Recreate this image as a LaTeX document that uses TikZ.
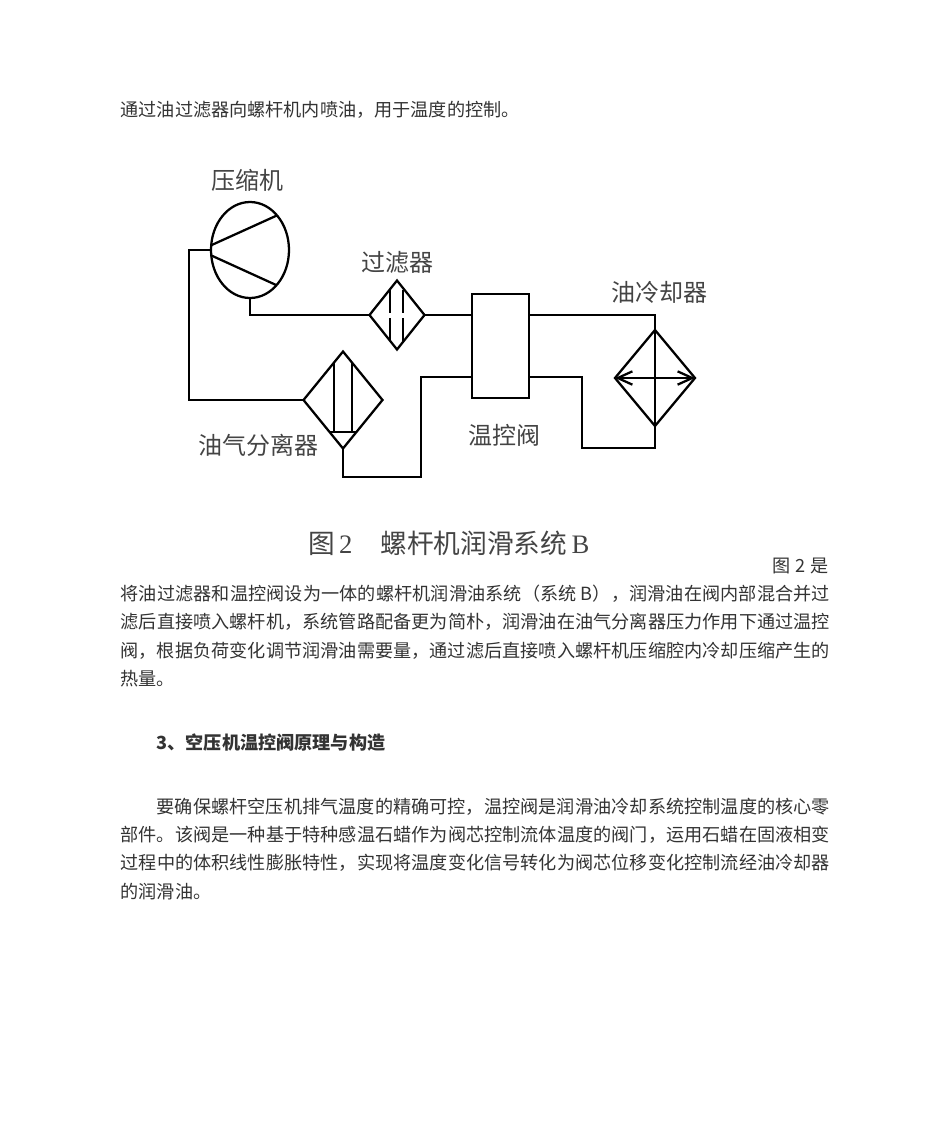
\documentclass[tikz,border=0pt]{standalone}
\usepackage{fontspec}
\setmainfont{Noto Sans CJK SC}
\newfontfamily\capserif{Liberation Serif}
\usetikzlibrary{arrows.meta,shapes.geometric}
\XeTeXlinebreaklocale "zh"
\XeTeXlinebreakskip=0pt plus 1pt
\definecolor{bodyink}{HTML}{333333}
\definecolor{labelink}{HTML}{444444}

\begin{document}
\begin{tikzpicture}[x=0.75pt,y=-0.75pt,line width=1.7pt,>={Straight Barb[length=11pt,width=10pt]},
  part/.style={draw,inner sep=0pt,outer sep=0pt},
  label/.style={inner sep=0pt,text=labelink,font=\fontsize{18}{18}\selectfont},
  bodytext/.style={inner sep=0pt,anchor=north west,text=bodyink,text width=532pt,align=justify,font=\fontsize{13.6}{21.15}\selectfont},
  bodyline/.style={inner sep=0pt,text=bodyink,font=\fontsize{13.6}{21.15}\selectfont}]
  \useasboundingbox (0,0) rectangle (950,1129);

  \node[bodyline,anchor=west] (intro) at (119.5,110) {通过油过滤器向螺杆机内喷油，用于温度的控制。};

  \node[part,ellipse,minimum width=58.5pt,minimum height=72pt] (comp) at (250,250) {};
  \node[part,diamond,minimum width=41.25pt,minimum height=51.75pt] (filter) at (397,315) {};
  \node[part,diamond,minimum width=59.25pt,minimum height=72.75pt] (sep) at (343,400) {};
  \node[part,diamond,minimum width=60pt,minimum height=72pt] (cooler) at (655,378) {};
  \node[part,rectangle,minimum width=42.75pt,minimum height=78pt] (valve) at (500.5,346) {};

  \node[label] (complabel) at (247,180) {压缩机};
  \node[label] (filterlabel) at (397,262) {过滤器};
  \node[label] (coolerlabel) at (659,292) {油冷却器};
  \node[label] (seplabel) at (258,445) {油气分离器};
  \node[label] (valvelabel) at (504,435) {温控阀};

  \coordinate (valvefront) at (472,315);
  \coordinate (valveback) at (529,315);
  \coordinate (valvefeed) at (472,377);
  \coordinate (valvereturn) at (529,377);
  \coordinate (leftturn) at (189,250);
  \coordinate (septurn) at (421,477);
  \coordinate (coolerturn) at (582,448);

  \draw (comp.west) -- (leftturn) |- (sep.west);
  \draw (comp.south) |- (filter.west);
  \draw (filter.east) -- (valvefront);
  \draw (valveback) -| (cooler.north);
  \draw (cooler.south) |- (coolerturn) |- (valvereturn);
  \draw (sep.south) |- (septurn) |- (valvefeed);

  \draw (comp.173) -- (comp.52);
  \draw (comp.188) -- (comp.-53);

  \draw[line width=1.2pt] (390,290) -- (390,313) (390,318) -- (390,341);
  \draw[line width=1.2pt] (403,290) -- (403,313) (403,318) -- (403,341);

  \draw[line width=1.2pt] (334,362) -- (334,432);
  \draw[line width=1.2pt] (352,362) -- (352,432);
  \draw (329,432) -- (357,432);

  \draw (cooler.north) -- (cooler.south);
  \draw[<->] (cooler.west) -- (cooler.east);

  \node[inner sep=0pt,anchor=west,text=labelink,font=\fontsize{20}{20}\selectfont] (caption) at (307,543) {图\,{\capserif 2}\hspace{1.05em}螺杆机润滑系统\,{\capserif B}};

  \node[bodyline,anchor=east] (figref) at (830,566) {图\hspace{0.27em}2\hspace{0.27em}是};
  \node[bodytext] (para1) at (119.5,584) {将油过滤器和温控阀设为一体的螺杆机润滑油系统（系统 B），润滑油在阀内部混合并过滤后直接喷入螺杆机，系统管路配备更为简朴，润滑油在油气分离器压力作用下通过温控阀，根据负荷变化调节润滑油需要量，通过滤后直接喷入螺杆机压缩腔内冷却压缩产生的热量。};
  \node[bodyline,anchor=west] (heading) at (155.5,743) {\textbf{3、空压机温控阀原理与构造}};
  \node[bodytext] (para2) at (119.5,797) {\hspace*{27pt}要确保螺杆空压机排气温度的精确可控，温控阀是润滑油冷却系统控制温度的核心零部件。该阀是一种基于特种感温石蜡作为阀芯控制流体温度的阀门，运用石蜡在固液相变过程中的体积线性膨胀特性，实现将温度变化信号转化为阀芯位移变化控制流经油冷却器的润滑油。};
\end{tikzpicture}
\end{document}
